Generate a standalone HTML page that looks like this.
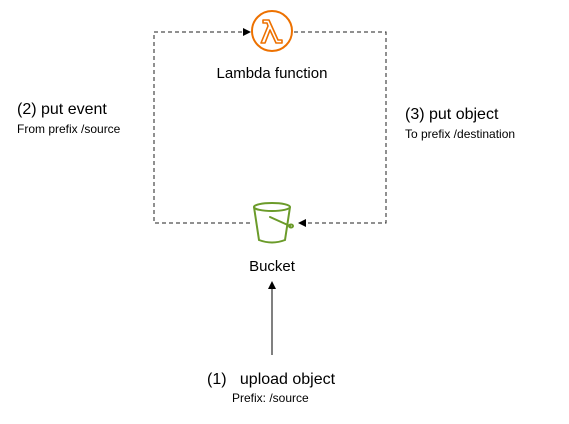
<!DOCTYPE html>
<html><head><style>
body{margin:0;width:569px;height:424px;background:#fff;overflow:hidden}
svg{display:block}
text{font-family:"Liberation Sans",sans-serif;fill:#000}
</style></head><body>
<svg width="569" height="424" viewBox="0 0 569 424">
<g fill="none" stroke="#222" stroke-width="1" stroke-dasharray="4,3">
<polyline points="250,223 154,223 154,32 245,32"/>
<polyline points="294,32 386,32 386,223 305,223"/>
</g>
<polygon points="251,32 243,28 243,36" fill="#000"/>
<polygon points="298,223 306,219 306,227" fill="#000"/>
<line x1="272" y1="355" x2="272" y2="288" stroke="#000" stroke-width="1"/>
<polygon points="272,281 268,289 276,289" fill="#000"/>
<circle cx="272" cy="31" r="20" fill="none" stroke="#ED7100" stroke-width="2"/>
<path d="M263,20 h6 l9,20 h4 v3 h-6 l-6,-13 l-5,13 h-4 l7,-17 l-1,-3 h-4 z" fill="none" stroke="#ED7100" stroke-width="1.6" stroke-linejoin="round"/>
<g fill="none" stroke="#6B9B2A" stroke-width="2">
<ellipse cx="272" cy="207" rx="18" ry="4"/>
<path d="M254,207 L259,240 Q272,245 285,240 L290,207"/>
<path d="M270,217 L290,226" stroke-linecap="round"/>
<ellipse cx="291" cy="226" rx="2" ry="1.5"/>
</g>
<text x="272" y="78" font-size="15" text-anchor="middle">Lambda function</text>
<text x="272" y="271" font-size="15" text-anchor="middle">Bucket</text>
<text x="17" y="114" font-size="16">(2) put event</text>
<text x="17" y="133" font-size="12">From prefix /source</text>
<text x="405" y="119" font-size="16">(3) put object</text>
<text x="405" y="138" font-size="12">To prefix /destination</text>
<text x="207" y="384" font-size="16">(1)&#160;&#160;&#160;upload object</text>
<text x="232" y="402" font-size="12">Prefix: /source</text>
</svg>
</body></html>
